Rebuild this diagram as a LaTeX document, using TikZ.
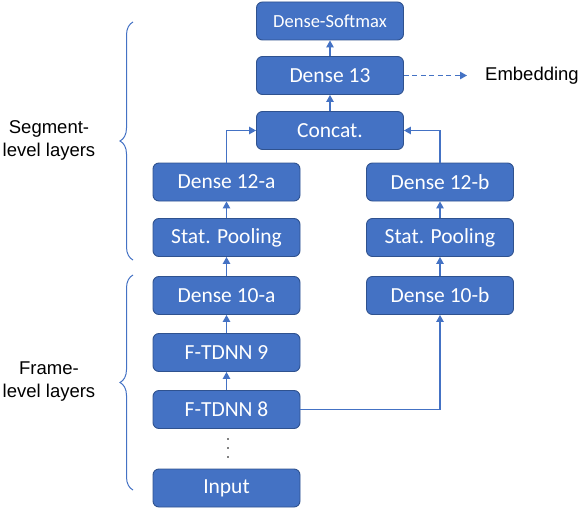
\documentclass[tikz,border=0pt]{standalone}
\usepackage{fontspec}
\setmainfont{Liberation Sans}
\newfontfamily\boxfont{Carlito}
\usetikzlibrary{arrows.meta,decorations.pathreplacing,calc}
\definecolor{boxfill}{HTML}{4472C4}
\definecolor{boxline}{HTML}{2F528F}
\tikzset{
  layer/.style={draw=boxline, line width=0.9pt, fill=boxfill, rounded corners=6pt,
    minimum width=147pt, minimum height=38pt, inner sep=0pt, text=white,
    font=\boxfont\fontsize{21.5}{25}\selectfont},
  conn/.style={draw=boxfill, line width=1.2pt, -{Triangle[length=7pt,width=7.5pt]}},
  brace/.style={draw=boxfill, line width=1pt, decorate, decoration={brace, amplitude=13pt}},
  lbl/.style={font=\fontsize{18.5}{23}\selectfont, align=center, text=black},
  dot/.style={circle, fill=black, inner sep=0pt, minimum size=1.9pt}
}
\begin{document}
\begin{tikzpicture}[x=1pt,y=-1pt]
\useasboundingbox (0,0) rectangle (580,508);
% top column
\node[layer, font=\boxfont\fontsize{18.5}{22}\selectfont] (soft) at (330,21) {Dense-Softmax};
\node[layer] (d13) at (330,75.5) {Dense 13};
\node[layer] (cat) at (330,130.5) {Concat.};
% left column
\node[layer] (d12a) at (226.5,182) {Dense 12-a};
\node[layer] (spa) at (226.5,237.5) {Stat. Pooling};
\node[layer] (d10a) at (226.5,295.5) {Dense 10-a};
\node[layer] (f9) at (226.5,352.5) {F-TDNN 9};
\node[layer] (f8) at (226.5,409.5) {F-TDNN 8};
\node[layer] (inp) at (226.5,488) {Input};
% right column
\node[layer] (d12b) at (440,182) {Dense 12-b};
\node[layer] (spb) at (440,237.5) {Stat. Pooling};
\node[layer] (d10b) at (440,295.5) {Dense 10-b};
% connectors
\draw[conn] (f8) -- (f9);
\draw[conn] (f9) -- (d10a);
\draw[conn] (d10a) -- (spa);
\draw[conn] (spa) -- (d12a);
\draw[conn] (d12a.north) |- (cat.west);
\draw[conn] (d10b) -- (spb);
\draw[conn] (spb) -- (d12b);
\draw[conn] (d12b.north) |- (cat.east);
\draw[conn] (f8.east) -| (d10b.south);
\draw[conn] (cat) -- (d13);
\draw[conn] (d13) -- (soft);
\coordinate (embend) at (467,75.5);
\draw[conn, dashed, dash pattern=on 5pt off 3.5pt] (d13.east) -- (embend);
\node[lbl, anchor=west, inner sep=0pt] (emb) at (485,75.5) {Embedding};
% dots
\node[dot] (dt1) at (228,439) {};
\node[dot] (dt2) at (228,448) {};
\node[dot] (dt3) at (228,457) {};
% braces
\coordinate (sb1) at (133,260);
\coordinate (sb2) at (133,22);
\coordinate (fb1) at (133,490);
\coordinate (fb2) at (133,275);
\draw[brace] (sb1) -- (sb2);
\draw[brace] (fb1) -- (fb2);
\node[lbl] (seg) at (49,140) {Segment-\\level layers};
\node[lbl] (frm) at (49,382) {Frame-\\level layers};
\end{tikzpicture}
\end{document}
